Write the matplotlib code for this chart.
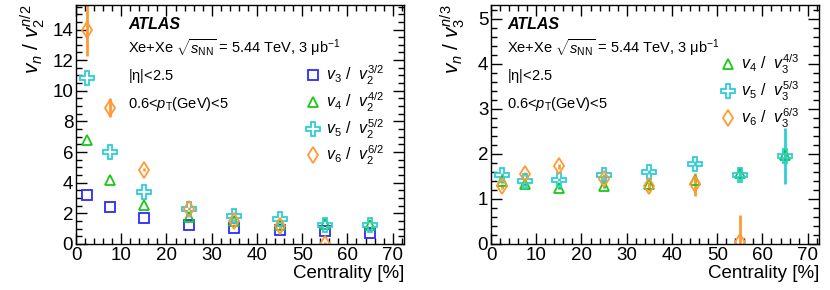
import matplotlib
matplotlib.use("Agg")
import matplotlib.pyplot as plt
from matplotlib.ticker import MultipleLocator
from matplotlib.lines import Line2D

plt.rcParams['font.family'] = ['Liberation Sans', 'DejaVu Sans']
plt.rcParams['mathtext.fontset'] = 'custom'
plt.rcParams['mathtext.rm'] = 'Liberation Sans'
plt.rcParams['mathtext.it'] = 'Liberation Sans:italic'
plt.rcParams['mathtext.bf'] = 'Liberation Sans:bold'

# ---- data ----
cent = [2.5, 7.5, 15, 25, 35, 45, 55, 65]
cent6 = [2.5, 7.5, 15, 25, 35, 45, 55]

# left panel: v_n / v_2^{n/2}
L_v3 = [3.22, 2.42, 1.70, 1.26, 1.02, 0.94, 0.83, 0.72]
L_v4 = [6.78, 4.20, 2.57, 1.76, 1.48, 1.22, 1.33, 1.22]
L_v5 = [10.85, 5.99, 3.38, 2.29, 1.81, 1.66, 1.22, 1.24]
L_v6 = [13.94, 8.89, 4.86, 2.29, 1.48, 1.15, 0.02]
L_v6_err = [1.67, 0.62, 0.10, 0.10, 0.15, 0.20, 0.10]

# right panel: v_n / v_3^{n/3}
R_v4 = [1.39, 1.32, 1.24, 1.28, 1.32, 1.41, 1.58, 1.98]
R_v4_err = [0.04, 0.03, 0.03, 0.03, 0.04, 0.06, 0.10, 0.12]
R_v5 = [1.54, 1.39, 1.43, 1.52, 1.59, 1.78, 1.54, 1.95]
R_v5_err = [0.03, 0.03, 0.03, 0.03, 0.04, 0.06, 0.15, 0.63]
R_v6 = [1.28, 1.55, 1.72, 1.45, 1.28, 1.32, 0.04]
R_v6_err = [0.06, 0.05, 0.05, 0.05, 0.10, 0.26, 0.60]

c_blue = '#2b2bff'
c_green = '#19c819'
c_cyan = '#2ccfd6'
c_orange = '#ff9933'

fig = plt.figure(figsize=(8.3, 2.9), dpi=100)
axL = fig.add_axes([76/830, 46/290, 328/830, 239/290])
axR = fig.add_axes([491/830, 46/290, 328/830, 239/290])

def style(ax, ymax, ymaj, ymin):
    ax.set_xlim(0, 72.5)
    ax.set_ylim(0, ymax)
    ax.xaxis.set_major_locator(MultipleLocator(10))
    ax.xaxis.set_minor_locator(MultipleLocator(2))
    ax.yaxis.set_major_locator(MultipleLocator(ymaj))
    ax.yaxis.set_minor_locator(MultipleLocator(ymin))
    ax.tick_params(which='both', direction='in', top=True, right=True, labelsize=13.5, pad=2)
    ax.tick_params(which='major', length=8, width=1)
    ax.tick_params(which='minor', length=4, width=1)
    for s in ax.spines.values():
        s.set_linewidth(1)
    ax.set_xlabel('Centrality [%]', fontsize=13.5, loc='right', labelpad=1)

ms_kw = dict(linestyle='none', markerfacecolor='none', markeredgewidth=1.3)
MS = {'s': 7, '^': 7, 'P': 10, 'd': 8.5}

def text_block(ax, x0):
    ax.text(x0, 0.92, 'ATLAS', transform=ax.transAxes, fontsize=11.5,
            fontweight='bold', fontstyle='italic', va='center')
    ax.text(x0, 0.82, r'Xe+Xe $\sqrt{s_{\mathrm{NN}}}$ = 5.44 TeV, 3 $\mathrm{\mu}$b$^{\mathrm{-1}}$',
            transform=ax.transAxes, fontsize=10.5, va='center')
    ax.text(x0, 0.705, r'|$\mathrm{\eta}$|<2.5', transform=ax.transAxes, fontsize=10.5, va='center')
    ax.text(x0, 0.585, r'0.6<$p_{\mathrm{T}}$(GeV)<5', transform=ax.transAxes, fontsize=10.5, va='center')

def proxy(m, c):
    return Line2D([], [], marker=m, ms=MS[m], color=c, **ms_kw)

# ---- left ----
style(axL, 15.6, 2, 0.5)
axL.set_ylabel(r'$v_{n}\ /\ v_{2}^{n/2}$', fontsize=15, labelpad=4, loc='top')
axL.errorbar(cent, L_v3, marker='s', ms=MS['s'], color=c_blue, **ms_kw)
axL.errorbar(cent, L_v4, marker='^', ms=MS['^'], color=c_green, **ms_kw)
axL.errorbar(cent, L_v5, marker='P', ms=MS['P'], color=c_cyan, **ms_kw)
axL.errorbar(cent6, L_v6, yerr=L_v6_err, marker='d', ms=MS['d'], color=c_orange,
             elinewidth=2, capsize=0, **ms_kw)
text_block(axL, 0.16)
axL.legend([proxy('s', c_blue), proxy('^', c_green), proxy('P', c_cyan), proxy('d', c_orange)],
           [r'$v_{3}\ /\ \ v_{2}^{3/2}$', r'$v_{4}\ /\ \ v_{2}^{4/2}$',
            r'$v_{5}\ /\ \ v_{2}^{5/2}$', r'$v_{6}\ /\ \ v_{2}^{6/2}$'],
           loc='upper left', bbox_to_anchor=(0.68, 0.78), frameon=False, fontsize=11.5,
           handlelength=1.0, handletextpad=0.3, labelspacing=0.22, borderaxespad=0)

# ---- right ----
style(axR, 5.3, 1, 0.2)
axR.set_ylabel(r'$v_{n}\ /\ v_{3}^{n/3}$', fontsize=15, labelpad=8, loc='top')
axR.errorbar(cent, R_v4, yerr=R_v4_err, marker='^', ms=MS['^'], color=c_green,
             elinewidth=2, capsize=0, **ms_kw)
axR.errorbar(cent, R_v5, yerr=R_v5_err, marker='P', ms=MS['P'], color=c_cyan,
             elinewidth=2, capsize=0, **ms_kw)
axR.errorbar(cent6, R_v6, yerr=R_v6_err, marker='d', ms=MS['d'], color=c_orange,
             elinewidth=2, capsize=0, **ms_kw)
text_block(axR, 0.05)
axR.legend([proxy('^', c_green), proxy('P', c_cyan), proxy('d', c_orange)],
           [r'$v_{4}\ /\ \ v_{3}^{4/3}$', r'$v_{5}\ /\ \ v_{3}^{5/3}$',
            r'$v_{6}\ /\ \ v_{3}^{6/3}$'],
           loc='upper left', bbox_to_anchor=(0.68, 0.825), frameon=False, fontsize=11.5,
           handlelength=1.0, handletextpad=0.3, labelspacing=0.22, borderaxespad=0)

fig.savefig('out.png', dpi=100)
